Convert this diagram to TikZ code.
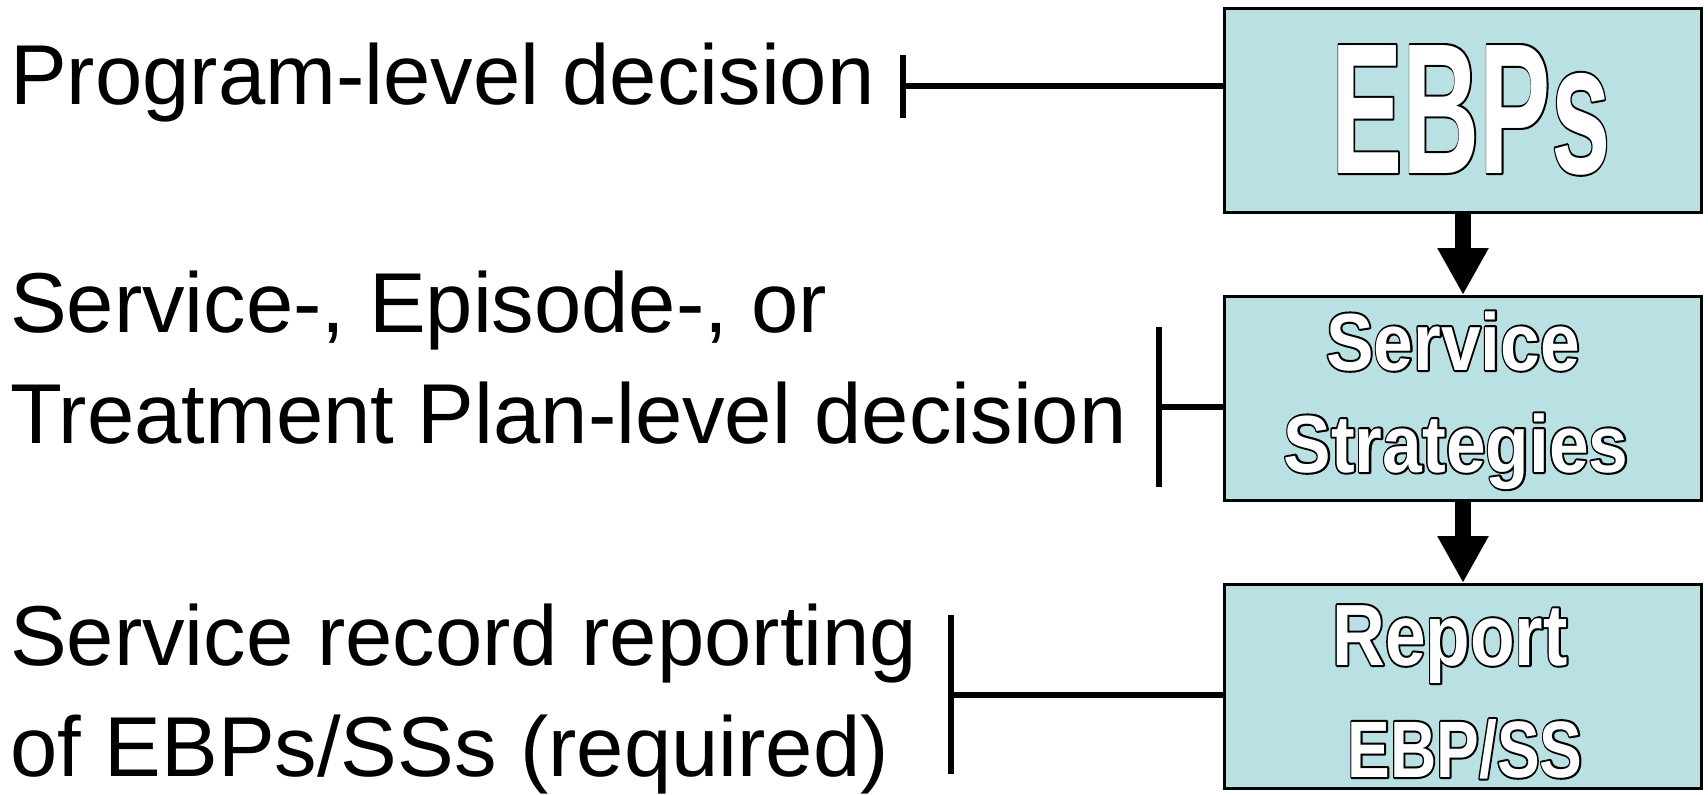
\documentclass[tikz,border=0pt]{standalone}
\usepackage{fontspec}
\setmainfont{Liberation Sans}
\usetikzlibrary{arrows.meta}
\definecolor{boxfill}{RGB}{185,224,227}
\tikzset{
  box/.style={draw=black, line width=3pt, fill=boxfill, minimum width=477pt, minimum height=204pt, inner sep=0pt},
  lbl/.style={anchor=base west, inner sep=0pt, font=\fontsize{85}{111}\selectfont},
  tbar/.style={line width=6.5pt},
  flow/.style={line width=16pt, -{Triangle[length=47pt,width=48pt]}},
  btxt/.style={anchor=base, inner sep=0pt, text=white}
}
% outlined text: black stroke layer beneath, white fill layer on top
\newcommand{\otext}[3]{\scalebox{#1}[1]{\fontsize{#2}{#2}\selectfont\bfseries\color{white}%
  \makebox[0pt][l]{\special{pdf:literal direct 0 0 0 RG 4 w 1 j 1 Tr}#3\special{pdf:literal direct 0 Tr}}#3}}
\begin{document}
\begin{tikzpicture}[x=1pt,y=-1pt]
\useasboundingbox (0,0) rectangle (1708,795);

% boxes
\node[box] (b1) at (1463,110.5) {};
\node[box] (b2) at (1463,398.5) {};
\node[box] (b3) at (1463,686.5) {};

% box texts
\node[btxt] (t1) at (1471,173) {\otext{0.574}{186}{EBPs}};
\node[btxt] (t2a) at (1453,370) {\otext{0.88}{81}{Service}};
\node[btxt] (t2b) at (1456,472) {\otext{0.88}{81}{Strategies}};
\node[btxt] (t3a) at (1450,665) {\otext{0.84}{87}{Report}};
\node[btxt] (t3b) at (1465,777) {\otext{0.80}{80}{EBP/SS}};

% flow arrows
\draw[flow] (b1.south) -- (b2.north);
\draw[flow] (b2.south) -- (b3.north);

% left labels
\node[lbl] (l1) at (10,104) {Program-level decision};
\node[lbl] (l2a) at (10,332) {Service-, Episode-, or};
\node[lbl] (l2b) at (10,443) {Treatment Plan-level decision};
\node[lbl] (l3a) at (10,665) {Service record reporting};
\node[lbl] (l3b) at (10,776) {of EBPs/SSs (required)};

% T-bar connectors
\coordinate (j1) at (903,86);
\coordinate (j1t) at (903,55);
\coordinate (j1b) at (903,118);
\draw[tbar] (j1t) -- (j1b);
\draw[tbar] (j1) -- (j1 -| b1.west);

\coordinate (j2) at (1159,407);
\coordinate (j2t) at (1159,327);
\coordinate (j2b) at (1159,487);
\draw[tbar] (j2t) -- (j2b);
\draw[tbar] (j2) -- (j2 -| b2.west);

\coordinate (j3) at (951,695);
\coordinate (j3t) at (951,615);
\coordinate (j3b) at (951,774);
\draw[tbar] (j3t) -- (j3b);
\draw[tbar] (j3) -- (j3 -| b3.west);
\end{tikzpicture}
\end{document}
